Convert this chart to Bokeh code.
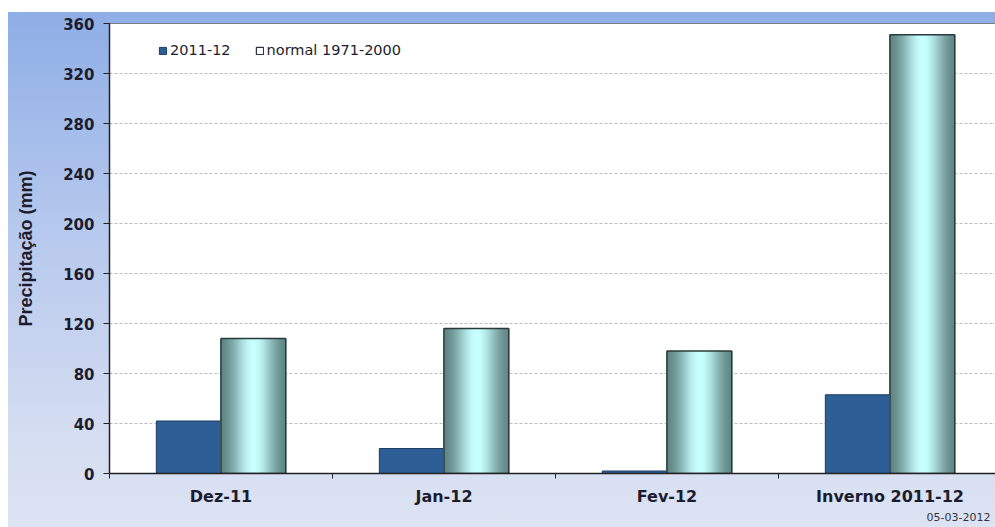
import math
from bokeh.plotting import figure
from bokeh.models import (Range1d, FixedTicker, Legend, LegendItem, Span, Title,
                          ColumnDataSource)
from bokeh.embed import file_html
from bokeh.resources import INLINE

categories = ["Dez-11", "Jan-12", "Fev-12", "Inverno 2011-12"]
obs_2011_12 = [42, 20, 2, 63]
normal_1971_2000 = [108, 116, 98, 351]
y_ticks = [0, 40, 80, 120, 160, 200, 240, 280, 320, 360]

centers = [i + 0.5 for i in range(len(categories))]
bw = 0.29

p = figure(width=987, height=515, output_backend="svg", toolbar_location=None,
           x_range=Range1d(0, 886 / 223.0), y_range=Range1d(0, 360),
           min_border_left=101, min_border_right=0, min_border_top=11,
           min_border_bottom=54, title=None)
p.margin = (12, 0, 0, 8)
p.border_fill_alpha = 0
p.styles = {"background": "linear-gradient(to bottom, #8EAEE6 0%, #B4C7ED 40%, #D3DCF1 80%, #DCE3F3 100%)"}
p.background_fill_color = "#FFFFFF"
p.outline_line_alpha = 0

# grid
p.xgrid.visible = False
p.ygrid.ticker = FixedTicker(ticks=y_ticks)
p.ygrid.grid_line_color = "#BDBDBD"
p.ygrid.grid_line_dash = "3 2"
p.ygrid.grid_line_width = 1

# observed bars
src_obs = ColumnDataSource(dict(x=[c - bw / 2 for c in centers], top=obs_2011_12))
r_obs = p.vbar(x="x", top="top", width=bw, bottom=0, source=src_obs,
               fill_color="#2E5E96", line_color="#1E3C64", line_width=1)

# normal bars with cylinder-like gradient via overlapping strips
N = 40
dark = (84, 118, 118)
light = (200, 255, 255)
xs, tops, cols = [], [], []
for c, v in zip(centers, normal_1971_2000):
    for k in range(N):
        t = (k + 0.5) / N
        b = math.exp(-((t - 0.52) / 0.33) ** 2)
        col = tuple(int(dark[j] + (light[j] - dark[j]) * b) for j in range(3))
        xs.append(c + bw * t)
        tops.append(v)
        cols.append("#%02x%02x%02x" % col)
p.vbar(x=xs, top=tops, width=bw / N * 2.2, bottom=0, fill_color=cols, line_alpha=0)
src_norm = ColumnDataSource(dict(x=[c + bw / 2 for c in centers], top=normal_1971_2000))
r_norm = p.vbar(x="x", top="top", width=bw, bottom=0, source=src_norm,
                fill_color="#F4FFFF", fill_alpha=0, line_color="#2A3A3A", line_width=1.3)

# top border line
p.add_layout(Span(location=360, dimension="width", line_color="#222222", line_width=1.2))

# axes
for ax in (p.xaxis[0], p.yaxis[0]):
    ax.axis_line_color = "#222222"
    ax.axis_line_width = 1.5
    ax.major_label_text_font = "DejaVu Sans"
    ax.major_label_text_font_style = "bold"
    ax.major_label_text_color = "#1C1C2E"

p.yaxis.ticker = FixedTicker(ticks=y_ticks)
p.yaxis.major_label_text_font_size = "15px"
p.yaxis.major_tick_out = 6
p.yaxis.major_tick_in = 0
p.yaxis.major_tick_line_color = "#222222"
p.yaxis.minor_tick_line_alpha = 0
p.yaxis.major_label_standoff = 9
p.yaxis.axis_label = "Precipitação (mm)"
p.yaxis.axis_label_text_font = "Liberation Sans"
p.yaxis.axis_label_text_font_style = "bold"
p.yaxis.axis_label_text_font_size = "18px"
p.yaxis.axis_label_text_color = "#1C1C2E"
p.yaxis.axis_label_standoff = 24

p.xaxis.ticker = FixedTicker(ticks=centers, minor_ticks=[0, 1, 2, 3])
p.xaxis.major_label_overrides = {c: n for c, n in zip(centers, categories)}
p.xaxis.major_label_text_font_size = "16px"
p.xaxis.major_tick_line_alpha = 0
p.xaxis.major_tick_out = 5
p.xaxis.minor_tick_out = 5
p.xaxis.minor_tick_in = 0
p.xaxis.minor_tick_line_color = "#222222"
p.xaxis.major_label_standoff = 8

# date stamp
p.add_layout(Title(text="05-03-2012", align="right", text_font="DejaVu Sans",
                   text_font_size="11px", text_font_style="normal",
                   text_color="#333340", standoff=5, offset=5), "below")

legend = Legend(items=[LegendItem(label="2011-12", renderers=[r_obs]),
                       LegendItem(label="normal 1971-2000", renderers=[r_norm])],
                orientation="horizontal", location=(49, 414))
legend.border_line_alpha = 0
legend.background_fill_alpha = 0
legend.padding = 0
legend.margin = 0
legend.spacing = 24
legend.glyph_width = 9
legend.glyph_height = 9
legend.label_standoff = 3
legend.label_text_font = "DejaVu Sans"
legend.label_text_font_size = "14.5px"
legend.label_text_color = "#1C1C2E"
legend.label_height = 18
p.add_layout(legend)

open("out.html", "w").write(file_html(p, INLINE))
